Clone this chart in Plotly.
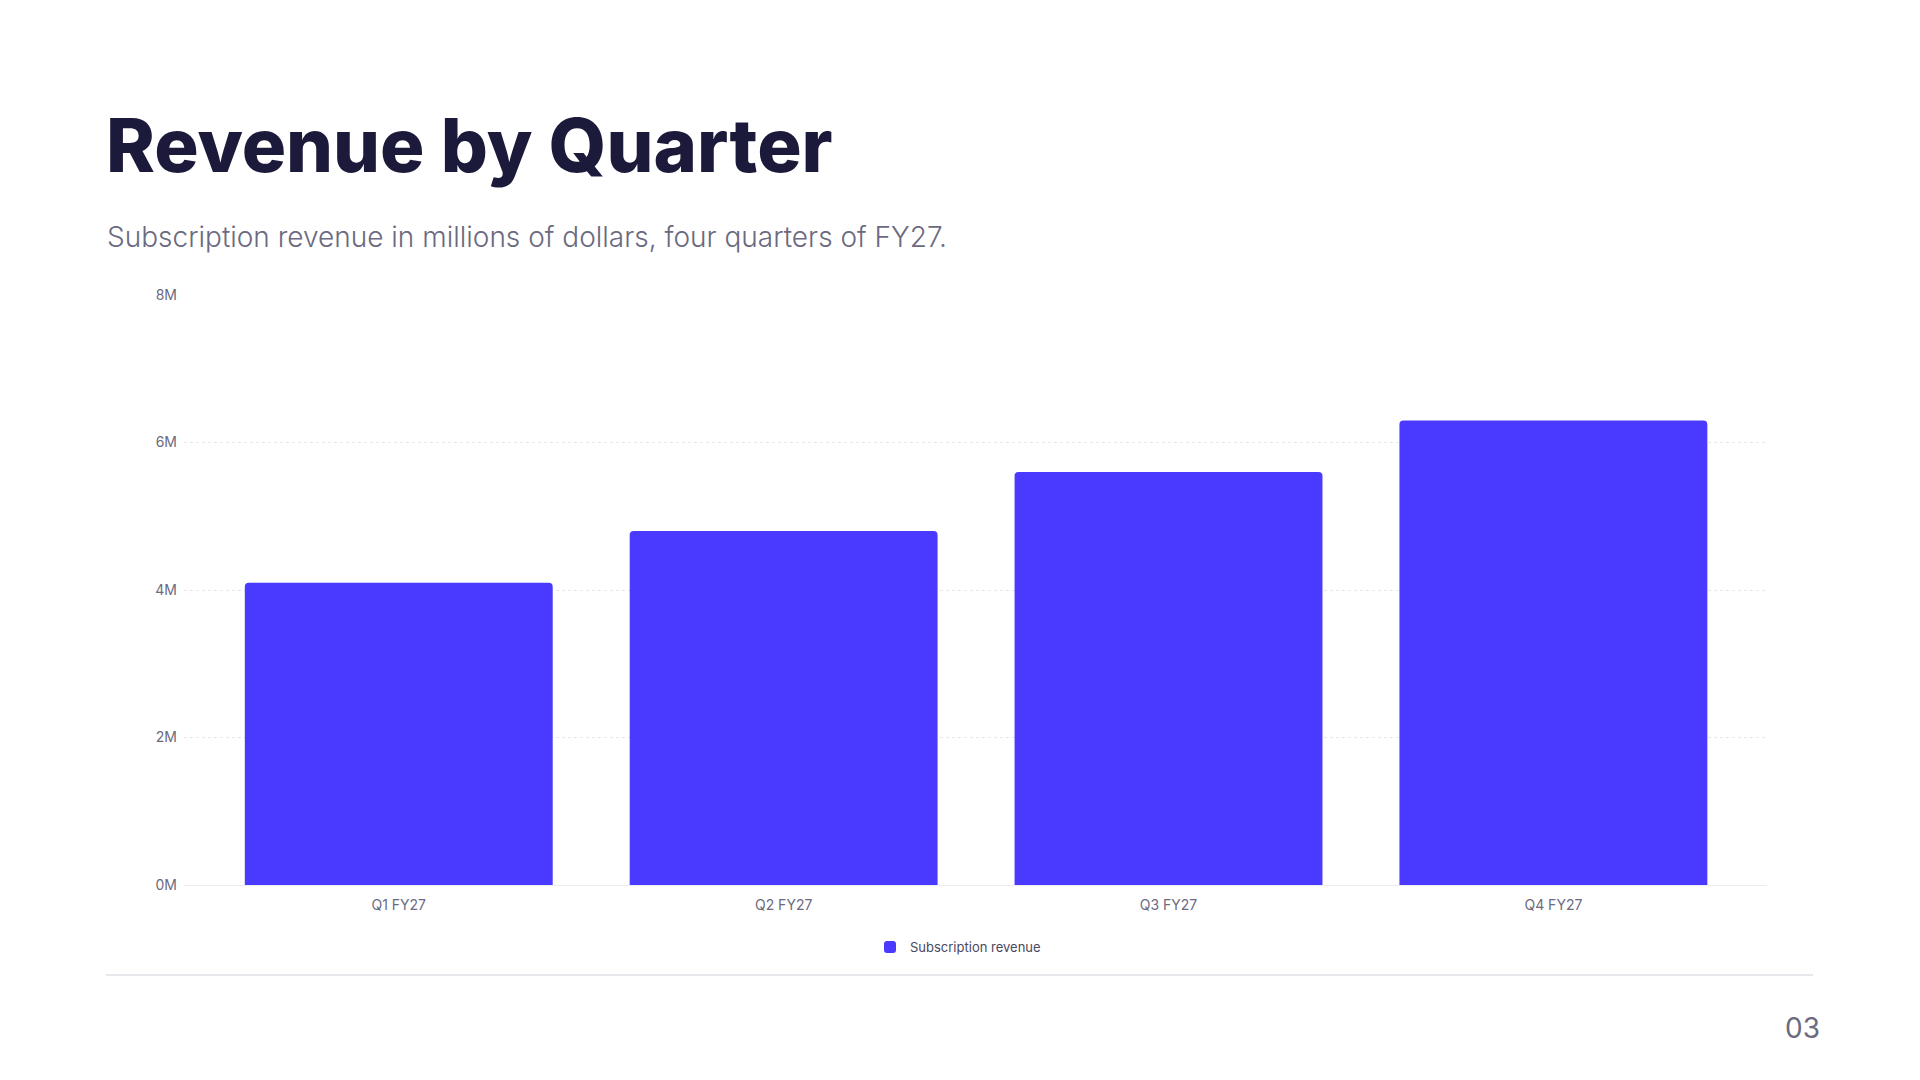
import plotly.graph_objects as go

quarters = ["Q1 FY27", "Q2 FY27", "Q3 FY27", "Q4 FY27"]
revenue_m = [4.1, 4.8, 5.6, 6.3]
y_ticks = [0, 2, 4, 6, 8]
y_tick_labels = ["0M", "2M", "4M", "6M", "8M"]

TITLE = "Revenue by Quarter"
SUBTITLE = "Subscription revenue in millions of dollars, four quarters of FY27."
PAGE_NO = "03"

# the page body has an 8px margin, so the figure starts at (8, 8)
OFF = 8
W, H = 1920 - 2 * OFF, 1080 - 2 * OFF
PL, PR, PT, PB = 184, 1767, 295, 885  # plot box in page pixels

FONT = "Inter"
BAR = "#4a3aff"
INK = "#1c1a3a"
MUTED = "#6b6a80"


def px_x(x):
    return (x - PL) / (PR - PL)


def px_y(y):
    return (PB - y) / (PB - PT)


fig = go.Figure(
    data=[go.Bar(
        x=quarters,
        y=revenue_m,
        name="Subscription revenue",
        marker=dict(color=BAR, line=dict(width=0)),
        width=0.8,
        hoverinfo="skip",
    )]
)

fig.update_layout(
    width=W,
    height=H,
    margin=dict(l=PL - OFF, r=W + OFF - PR, t=PT - OFF, b=H + OFF - PB, pad=0),
    paper_bgcolor="white",
    plot_bgcolor="white",
    font=dict(family=FONT, color=MUTED, size=14),
    barcornerradius=4,
    showlegend=True,
    legend=dict(
        orientation="h",
        xref="container", yref="container",
        x=(958 - OFF) / W, xanchor="center",
        y=1 - (947 - OFF) / H, yanchor="middle",
        font=dict(size=13, color="#4a4860"),
        itemwidth=30,
    ),
)

fig.update_xaxes(
    range=[-0.558, 3.555],
    showgrid=False,
    showline=False,
    ticks="",
    ticklabelstandoff=10,
    tickfont=dict(size=14, color=MUTED),
)

fig.update_yaxes(
    range=[0, 8],
    tickvals=y_ticks,
    ticktext=y_tick_labels,
    showgrid=True,
    gridcolor="#e6e6ec",
    griddash="dot",
    gridwidth=1,
    zeroline=True,
    zerolinecolor="#ececf0",
    zerolinewidth=1,
    showline=False,
    ticks="",
    ticklabelstandoff=6,
    tickfont=dict(size=14, color=MUTED),
)

fig.add_annotation(
    text=TITLE, xref="paper", yref="paper",
    x=px_x(104), y=px_y(145), xanchor="left", yanchor="middle",
    showarrow=False,
    font=dict(family=FONT, size=74, color=INK, weight=800),
)
fig.add_annotation(
    text=SUBTITLE, xref="paper", yref="paper",
    x=px_x(105), y=px_y(237), xanchor="left", yanchor="middle",
    showarrow=False,
    font=dict(family=FONT, size=28, color=MUTED, weight=300),
)
fig.add_annotation(
    text=PAGE_NO, xref="paper", yref="paper",
    x=px_x(1822), y=px_y(1028), xanchor="right", yanchor="middle",
    showarrow=False,
    font=dict(family=FONT, size=28, color=MUTED),
)

fig.add_shape(
    type="line", xref="paper", yref="paper",
    x0=px_x(106), x1=px_x(1813), y0=px_y(975), y1=px_y(975),
    line=dict(color="#e8e8ec", width=2),
)

fig.write_html("out.html")
